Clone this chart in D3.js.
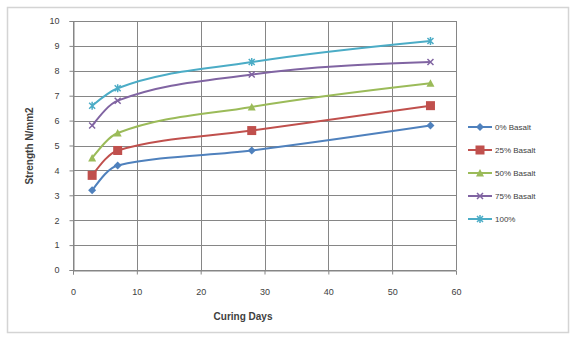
<!DOCTYPE html>
<html>
<head>
<meta charset="utf-8">
<script src="https://cdn.jsdelivr.net/npm/d3@7/dist/d3.min.js"></script>
<style>
  html, body { margin: 0; padding: 0; background: #fff; }
  svg { display: block; font-family: "Liberation Sans", Arial, sans-serif; }
</style>
</head>
<body>
<svg id="chart" width="571" height="337"></svg>
<script>
// Curing age (days) at which each mix was tested
const curingDays = [3, 7, 28, 56];

// Strength in N/mm2 for each basalt fibre content
const basalt0   = [3.2, 4.2, 4.8, 5.8];
const basalt25  = [3.8, 4.8, 5.6, 6.6];
const basalt50  = [4.5, 5.5, 6.55, 7.5];
const basalt75  = [5.8, 6.8, 7.85, 8.35];
const basalt100 = [6.6, 7.3, 8.35, 9.2];

const seriesNames = ["0% Basalt", "25% Basalt", "50% Basalt", "75% Basalt", "100%"];
const seriesValues = [basalt0, basalt25, basalt50, basalt75, basalt100];
const seriesColors = ["#4F81BD", "#C0504D", "#9BBB59", "#8064A2", "#4BACC6"];
const seriesMarkers = ["diamond", "square", "triangle", "cross", "star"];

const xTicks = [0, 10, 20, 30, 40, 50, 60];
const yTicks = [0, 1, 2, 3, 4, 5, 6, 7, 8, 9, 10];

const svg = d3.select("#chart");

// chart frame
svg.append("rect")
  .attr("x", 7.5).attr("y", 7.5)
  .attr("width", 561).attr("height", 325)
  .attr("fill", "#fff").attr("stroke", "#d4d4d4").attr("stroke-width", 1.5);

const plot = { left: 73, right: 456, top: 21, bottom: 270 };

const x = d3.scaleLinear().domain([0, 60]).range([plot.left, plot.right]);
const y = d3.scaleLinear().domain([0, 10]).range([plot.bottom, plot.top]);

// gridlines
svg.append("g")
  .selectAll("line")
  .data(yTicks)
  .join("line")
  .attr("x1", plot.left).attr("x2", plot.right)
  .attr("y1", d => Math.round(y(d)) + 0.5).attr("y2", d => Math.round(y(d)) + 0.5)
  .attr("stroke", "#868686").attr("stroke-width", 1);

svg.append("g")
  .selectAll("line")
  .data(xTicks)
  .join("line")
  .attr("y1", plot.top).attr("y2", plot.bottom)
  .attr("x1", d => Math.round(x(d)) + 0.5).attr("x2", d => Math.round(x(d)) + 0.5)
  .attr("stroke", "#868686").attr("stroke-width", 1);

// axes
const yAxis = svg.append("g")
  .attr("transform", `translate(${plot.left + 0.5},0)`)
  .call(d3.axisLeft(y).tickValues(yTicks).tickSize(4).tickPadding(10).tickFormat(d3.format("d")));
const xAxis = svg.append("g")
  .attr("transform", `translate(0,${plot.bottom + 0.5})`)
  .call(d3.axisBottom(x).tickValues(xTicks).tickSize(4).tickPadding(14).tickFormat(d3.format("d")));

[yAxis, xAxis].forEach(g => {
  g.select(".domain").attr("stroke", "#868686");
  g.selectAll(".tick line").attr("stroke", "#868686");
  g.selectAll(".tick text")
    .attr("fill", "#404040")
    .style("font-size", "9px");
});

// axis titles
svg.append("text")
  .attr("x", 243).attr("y", 320)
  .attr("text-anchor", "middle")
  .style("font-size", "10px").style("font-weight", "bold")
  .attr("fill", "#404040")
  .text("Curing Days");

svg.append("text")
  .attr("transform", "translate(33,146) rotate(-90)")
  .attr("text-anchor", "middle")
  .style("font-size", "10px").style("font-weight", "bold")
  .attr("fill", "#404040")
  .text("Strength N/mm2");

// marker drawing
function drawMarker(g, kind, color) {
  if (kind === "diamond") {
    g.append("path").attr("d", "M0,-4L4,0L0,4L-4,0Z").attr("fill", color);
  } else if (kind === "square") {
    g.append("rect").attr("x", -4.5).attr("y", -4.5).attr("width", 9).attr("height", 9).attr("fill", color);
  } else if (kind === "triangle") {
    g.append("path").attr("d", "M0,-4L4,3.5L-4,3.5Z").attr("fill", color);
  } else if (kind === "cross") {
    g.append("path").attr("d", "M-3,-3L3,3M-3,3L3,-3").attr("stroke", color).attr("stroke-width", 1.5);
  } else if (kind === "star") {
    g.append("path").attr("d", "M-3,-3L3,3M-3,3L3,-3M0,-4L0,4").attr("stroke", color).attr("stroke-width", 1.5);
  }
}

const line = d3.line()
  .x(d => x(d[0]))
  .y(d => y(d[1]))
  .curve(d3.curveMonotoneX);

seriesValues.forEach((vals, i) => {
  const pts = curingDays.map((d, j) => [d, vals[j]]);
  const g = svg.append("g");
  g.append("path")
    .datum(pts)
    .attr("d", line)
    .attr("fill", "none")
    .attr("stroke", seriesColors[i])
    .attr("stroke-width", 2);
  pts.forEach(p => {
    const m = g.append("g").attr("transform", `translate(${x(p[0])},${y(p[1])})`);
    drawMarker(m, seriesMarkers[i], seriesColors[i]);
  });
});

// legend
const legend = svg.append("g").attr("transform", "translate(468,127)");
seriesNames.forEach((name, i) => {
  const row = legend.append("g").attr("transform", `translate(0,${i * 23})`);
  row.append("line").attr("x1", 0).attr("x2", 24).attr("y1", 0).attr("y2", 0)
    .attr("stroke", seriesColors[i]).attr("stroke-width", 2);
  const m = row.append("g").attr("transform", "translate(12,0)");
  drawMarker(m, seriesMarkers[i], seriesColors[i]);
  row.append("text").attr("x", 27).attr("y", 3)
    .style("font-size", "8px").attr("fill", "#404040")
    .text(name);
});
</script>
</body>
</html>
